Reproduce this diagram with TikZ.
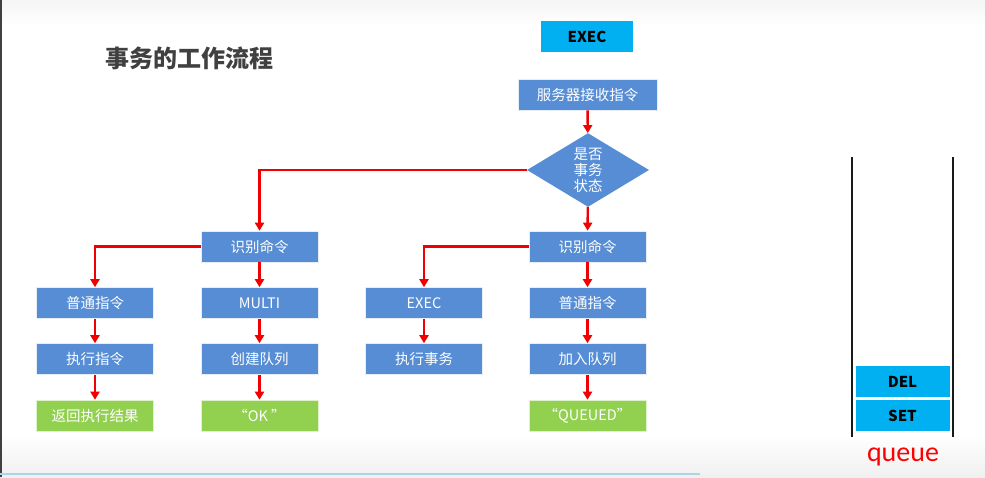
\documentclass[tikz,border=0pt]{standalone}
\usepackage{fontspec}
\setmainfont{Noto Sans CJK SC}
\newfontfamily\qfont{Carlito}
\usetikzlibrary{arrows.meta,shapes.geometric}
\definecolor{boxblue}{RGB}{86,141,212}
\definecolor{boxgreen}{RGB}{146,208,80}
\definecolor{boxcyan}{RGB}{0,176,240}
\definecolor{titlegray}{RGB}{64,64,64}
\definecolor{linered}{RGB}{240,0,0}
\definecolor{baseblue}{RGB}{166,216,232}
\begin{document}
\begin{tikzpicture}[x=1pt,y=-1pt,
  box/.style={fill=boxblue, draw=white!85!boxblue, line width=0.6pt, text=white, minimum width=117pt, minimum height=31pt, inner sep=0pt, font=\fontsize{14.5}{16}\selectfont},
  gbox/.style={box, fill=boxgreen, draw=white!70!boxgreen},
  cbox/.style={fill=boxcyan, text=black, inner sep=0pt, font=\bfseries\fontsize{15}{17}\selectfont},
  arr/.style={draw=linered, line width=2.4pt, -{Triangle[length=8pt,width=9pt]}},
  wall/.style={draw=black!90, line width=2.8pt}]
\useasboundingbox (0,0) rectangle (985,477);
\fill[white] (0,0) rectangle (985,477);
\shade[top color=black!4, bottom color=white] (0,0) rectangle (985,25);
\shade[top color=white, bottom color=black!6] (0,435) rectangle (985,477);
\draw[black!75, line width=2pt] (1,0) -- (1,477);
\draw[baseblue, line width=2.5pt] (0,474) -- (700,474);

\node[font=\bfseries\fontsize{24}{28}\selectfont, text=titlegray, anchor=west] (title) at (102,58) {事务的工作流程};

\node[cbox, minimum width=92pt, minimum height=31pt] (exec) at (587,36.5) {EXEC};
\node[box, minimum width=139pt] (recv) at (587.5,94.5) {服务器接收指令};
\node[diamond, fill=boxblue, text=white, minimum width=122pt, minimum height=70pt, inner sep=0pt, align=center, font=\fontsize{14.5}{16}\selectfont] (dia) at (588,170) {是否\\事务\\状态};

\node[box] (id1) at (259.5,246.5) {识别命令};
\node[box] (id2) at (587.5,246.5) {识别命令};

\node[box] (n1) at (95,303) {普通指令};
\node[box] (multi) at (259.5,303) {MULTI};
\node[box] (ex2) at (424,303) {EXEC};
\node[box] (n2) at (587.5,303) {普通指令};

\node[box] (e1) at (95,359) {执行指令};
\node[box] (cq) at (259.5,359) {创建队列};
\node[box] (exs) at (424,359) {执行事务};
\node[box] (jq) at (587.5,359) {加入队列};

\node[gbox] (ret) at (95,415.5) {返回执行结果};
\node[gbox] (ok) at (259.5,415.5) {“OK ”};
\node[gbox] (qd) at (587.5,415.5) {“QUEUED”};

\draw[arr] (recv) -- (dia);
\draw[arr] (dia.west) -| (id1.north);
\draw[arr] (dia) -- (id2);
\draw[arr] (id1.west) -| (n1.north);
\draw[arr] (id1) -- (multi);
\draw[arr] (id2.west) -| (ex2.north);
\draw[arr] (id2) -- (n2);
\draw[arr] (n1) -- (e1);
\draw[arr] (e1) -- (ret);
\draw[arr] (multi) -- (cq);
\draw[arr] (cq) -- (ok);
\draw[arr] (ex2) -- (exs);
\draw[arr] (n2) -- (jq);
\draw[arr] (jq) -- (qd);

% queue
\coordinate (lt) at (852,157);
\coordinate (lb) at (852,437);
\coordinate (rt) at (953,157);
\coordinate (rb) at (953,437);
\draw[wall] (lt) -- (lb);
\draw[wall] (rt) -- (rb);
\node[cbox, minimum width=94pt, minimum height=31pt] (del) at (902.5,381.5) {DEL};
\node[cbox, minimum width=94pt, minimum height=31pt] (set) at (902.5,415.5) {SET};
\node[text=red, font=\qfont\fontsize{28}{30}\selectfont] (q) at (903,457) {queue};
\end{tikzpicture}
\end{document}
